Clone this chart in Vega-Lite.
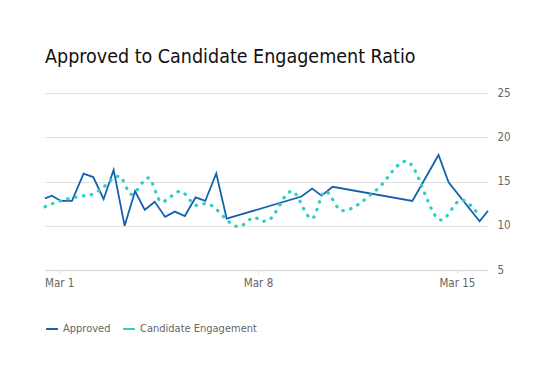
{
  "$schema": "https://vega.github.io/schema/vega-lite/v6.json",
  "width": 443,
  "height": 177,
  "autosize": {"type": "none"},
  "padding": {"left": 45, "top": 93, "right": 67, "bottom": 107},
  "background": "white",
  "title": {
    "text": "Approved to Candidate Engagement Ratio",
    "anchor": "start",
    "frame": "group",
    "font": "DejaVu Sans Condensed",
    "fontSize": 19.5,
    "fontWeight": "normal",
    "color": "#111111",
    "offset": 20
  },
  "config": {
    "view": {"stroke": null},
    "axis": {"labelFont": "DejaVu Sans Condensed", "labelColor": "#666666", "labelFontSize": 11.5}
  },
  "datasets": {
    "approved": [
      {"t": "2024-02-29T12:00", "v": 13.1, "series": "Approved"},
      {"t": "2024-02-29T17:50", "v": 13.4, "series": "Approved"},
      {"t": "2024-03-01T01:26", "v": 12.8, "series": "Approved"},
      {"t": "2024-03-01T10:46", "v": 12.8, "series": "Approved"},
      {"t": "2024-03-01T20:35", "v": 15.9, "series": "Approved"},
      {"t": "2024-03-02T04:48", "v": 15.5, "series": "Approved"},
      {"t": "2024-03-02T13:30", "v": 13.0, "series": "Approved"},
      {"t": "2024-03-02T22:00", "v": 16.3, "series": "Approved"},
      {"t": "2024-03-03T07:18", "v": 10.0, "series": "Approved"},
      {"t": "2024-03-03T16:06", "v": 13.9, "series": "Approved"},
      {"t": "2024-03-04T00:18", "v": 11.8, "series": "Approved"},
      {"t": "2024-03-04T08:42", "v": 12.7, "series": "Approved"},
      {"t": "2024-03-04T17:30", "v": 11.0, "series": "Approved"},
      {"t": "2024-03-05T01:42", "v": 11.6, "series": "Approved"},
      {"t": "2024-03-05T10:06", "v": 11.1, "series": "Approved"},
      {"t": "2024-03-05T19:12", "v": 13.2, "series": "Approved"},
      {"t": "2024-03-06T03:24", "v": 12.8, "series": "Approved"},
      {"t": "2024-03-06T12:42", "v": 15.9, "series": "Approved"},
      {"t": "2024-03-06T21:30", "v": 10.8, "series": "Approved"},
      {"t": "2024-03-09T12:42", "v": 13.3, "series": "Approved"},
      {"t": "2024-03-09T21:42", "v": 14.2, "series": "Approved"},
      {"t": "2024-03-10T05:42", "v": 13.4, "series": "Approved"},
      {"t": "2024-03-10T15:00", "v": 14.4, "series": "Approved"},
      {"t": "2024-03-13T10:24", "v": 12.8, "series": "Approved"},
      {"t": "2024-03-14T08:30", "v": 18.0, "series": "Approved"},
      {"t": "2024-03-14T17:00", "v": 14.9, "series": "Approved"},
      {"t": "2024-03-15T19:12", "v": 10.5, "series": "Approved"},
      {"t": "2024-03-16T02:18", "v": 11.7, "series": "Approved"}
    ],
    "engagement": [
      {"t": "2024-02-29T12:00", "v": 12.15, "series": "Candidate Engagement"},
      {"t": "2024-03-01T00:50", "v": 12.8, "series": "Candidate Engagement"},
      {"t": "2024-03-01T21:10", "v": 13.4, "series": "Candidate Engagement"},
      {"t": "2024-03-02T04:00", "v": 13.55, "series": "Candidate Engagement"},
      {"t": "2024-03-02T09:54", "v": 14.0, "series": "Candidate Engagement"},
      {"t": "2024-03-03T02:50", "v": 15.6, "series": "Candidate Engagement"},
      {"t": "2024-03-03T13:00", "v": 13.55, "series": "Candidate Engagement"},
      {"t": "2024-03-04T03:24", "v": 15.4, "series": "Candidate Engagement"},
      {"t": "2024-03-04T14:24", "v": 12.7, "series": "Candidate Engagement"},
      {"t": "2024-03-05T06:30", "v": 13.9, "series": "Candidate Engagement"},
      {"t": "2024-03-05T20:06", "v": 12.3, "series": "Candidate Engagement"},
      {"t": "2024-03-06T03:42", "v": 12.5, "series": "Candidate Engagement"},
      {"t": "2024-03-07T07:36", "v": 9.9, "series": "Candidate Engagement"},
      {"t": "2024-03-07T21:12", "v": 10.95, "series": "Candidate Engagement"},
      {"t": "2024-03-08T03:06", "v": 10.5, "series": "Candidate Engagement"},
      {"t": "2024-03-08T08:12", "v": 10.6, "series": "Candidate Engagement"},
      {"t": "2024-03-09T04:30", "v": 13.9, "series": "Candidate Engagement"},
      {"t": "2024-03-09T21:30", "v": 10.8, "series": "Candidate Engagement"},
      {"t": "2024-03-10T08:42", "v": 13.9, "series": "Candidate Engagement"},
      {"t": "2024-03-10T22:54", "v": 11.7, "series": "Candidate Engagement"},
      {"t": "2024-03-12T04:30", "v": 14.1, "series": "Candidate Engagement"},
      {"t": "2024-03-13T05:06", "v": 17.3, "series": "Candidate Engagement"},
      {"t": "2024-03-14T10:42", "v": 10.65, "series": "Candidate Engagement"},
      {"t": "2024-03-15T03:42", "v": 12.9, "series": "Candidate Engagement"},
      {"t": "2024-03-15T18:06", "v": 11.3, "series": "Candidate Engagement"}
    ]
  },
  "encoding": {
    "x": {
      "field": "t",
      "type": "temporal",
      "scale": {"nice": false, "domain": [{"year": 2024, "month": 2, "date": 29, "hours": 12}, {"year": 2024, "month": 3, "date": 16, "hours": 2, "minutes": 18}]},
      "axis": {
        "title": null,
        "values": [{"year": 2024, "month": 3, "date": 1}, {"year": 2024, "month": 3, "date": 8}, {"year": 2024, "month": 3, "date": 15}],
        "format": "%b %-d",
        "grid": false,
        "domainColor": "#dddddd",
        "domainWidth": 1.5,
        "tickColor": "#dddddd",
        "tickSize": 3,
        "labelPadding": 4
      }
    },
    "y": {
      "field": "v",
      "type": "quantitative",
      "scale": {"domain": [5, 25], "nice": false, "zero": false},
      "axis": {
        "title": null,
        "orient": "right",
        "values": [5, 10, 15, 20, 25],
        "domain": false,
        "ticks": false,
        "gridColor": "#e0e0e0",
        "gridWidth": 1,
        "labelPadding": 9
      }
    },
    "color": {
      "field": "series",
      "type": "nominal",
      "scale": {"domain": ["Approved", "Candidate Engagement"], "range": ["#1661ad", "#2ccfc8"]},
      "legend": {
        "title": null,
        "orient": "none",
        "direction": "horizontal",
        "legendX": 0,
        "legendY": 229,
        "symbolType": "stroke",
        "symbolSize": 140,
        "symbolStrokeWidth": 2,
        "labelFont": "DejaVu Sans Condensed",
        "labelFontSize": 11,
        "labelColor": "#666666",
        "columnPadding": 8,
        "labelOffset": 4
      }
    }
  },
  "layer": [
    {
      "data": {"name": "approved"},
      "mark": {"type": "line", "strokeWidth": 1.8, "interpolate": "linear"}
    },
    {
      "data": {"name": "engagement"},
      "mark": {"type": "line", "strokeWidth": 3.2, "strokeCap": "round", "strokeDash": [0.5, 7.5], "interpolate": "monotone"}
    }
  ]
}
